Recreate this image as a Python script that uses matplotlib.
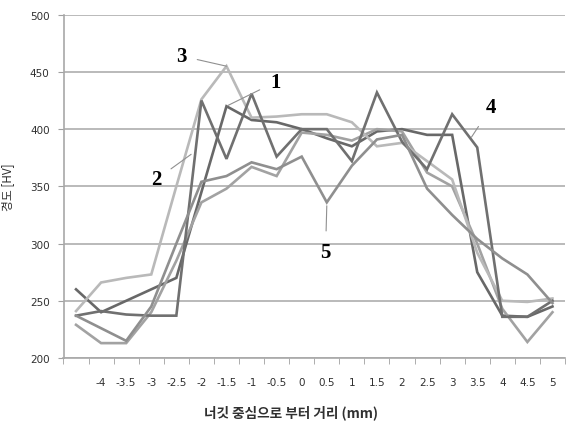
import matplotlib
matplotlib.use("Agg")
import matplotlib.pyplot as plt

x_vals = [-4.5, -4, -3.5, -3, -2.5, -2, -1.5, -1, -0.5, 0, 0.5, 1, 1.5, 2, 2.5, 3, 3.5, 4, 4.5, 5]
tick_labels = ["", "-4", "-3.5", "-3", "-2.5", "-2", "-1.5", "-1", "-0.5", "0", "0.5",
               "1", "1.5", "2", "2.5", "3", "3.5", "4", "4.5", "5"]

s1 = [260, 240, 250, 260, 270, 345, 420, 408, 406, 400, 392, 385, 398, 400, 395, 395, 275, 237, 236, 245]
s2 = [229, 213, 213, 240, 285, 336, 348, 367, 359, 397, 395, 390, 400, 398, 362, 350, 300, 243, 214, 240]
s3 = [241, 266, 270, 273, 350, 426, 455, 410, 411, 413, 413, 406, 385, 388, 372, 356, 292, 250, 249, 252]
s4 = [237, 241, 238, 237, 237, 425, 374, 431, 376, 400, 400, 372, 432, 389, 365, 413, 384, 236, 236, 250]
s5 = [237, 226, 215, 245, 300, 354, 359, 371, 365, 376, 336, 368, 391, 395, 348, 325, 304, 287, 273, 248]
hardness_series = [s1, s2, s3, s4, s5]
series_names = ["1", "2", "3", "4", "5"]
colors = ["#686868", "#a2a2a2", "#b9b9b9", "#707070", "#8f8f8f"]

W, H = 566, 427
fig = plt.figure(figsize=(W / 100, H / 100), dpi=100)
ax = fig.add_axes([63.5 / W, 1 - 359 / H, (565 - 63.5) / W, (359 - 15.7) / H])

idx = list(range(len(x_vals)))
for s, c in zip(hardness_series, colors):
    ax.plot(idx, s, color=c, lw=1.9, solid_joinstyle="miter")

ax.set_xlim(-0.5, len(x_vals) - 0.5)
ax.set_ylim(200, 500)
ax.set_yticks(range(200, 501, 50))
ax.yaxis.grid(True, color="#b4b4b4", lw=1.3)
ax.set_axisbelow(True)
ax.set_xticks(idx)
ax.set_xticklabels(tick_labels, fontsize=7.5, color="#303030")
ax.set_xticks([i - 0.5 for i in range(len(x_vals) + 1)], minor=True)
ax.tick_params(axis="x", which="major", length=0, pad=14)
ax.tick_params(axis="x", which="minor", length=4, color="#a0a0a0", direction="out")
ax.tick_params(axis="y", length=4, color="#a0a0a0", labelsize=7.5, labelcolor="#303030", pad=6)
for sp in ["top", "right"]:
    ax.spines[sp].set_visible(False)
for sp in ["left", "bottom"]:
    ax.spines[sp].set_color("#a8a8a8")
    ax.spines[sp].set_linewidth(1.2)

fig.text(8 / W, 1 - 187 / H, "경도 [HV]", rotation=90, ha="center", va="center",
         fontsize=8.5, family=["Noto Sans CJK KR", "DejaVu Sans"], color="#303030")
fig.text(291 / W, 1 - 413 / H, "너깃 중심으로 부터 거리 (mm)", ha="center", va="center",
         fontsize=9.8, family=["Noto Sans CJK KR", "DejaVu Sans"], color="#303030", weight="bold")

lab_kw = dict(fontsize=15, family="Liberation Serif", weight="bold", ha="center", va="center",
              arrowprops=dict(arrowstyle="-", color="#909090", lw=0.8, shrinkA=6, shrinkB=0))
ax.annotate(series_names[2], xy=(6, 455), xytext=(4.19, 464), **lab_kw)
ax.annotate(series_names[0], xy=(6.04, 420.5), xytext=(7.94, 441), **lab_kw)
ax.annotate(series_names[1], xy=(4.59, 378), xytext=(3.2, 356), **lab_kw)
ax.annotate(series_names[3], xy=(15.77, 393), xytext=(16.55, 419), **lab_kw)
ax.annotate(series_names[4], xy=(10, 333), xytext=(9.95, 292.6), **lab_kw)

fig.savefig("out.png", dpi=100)
